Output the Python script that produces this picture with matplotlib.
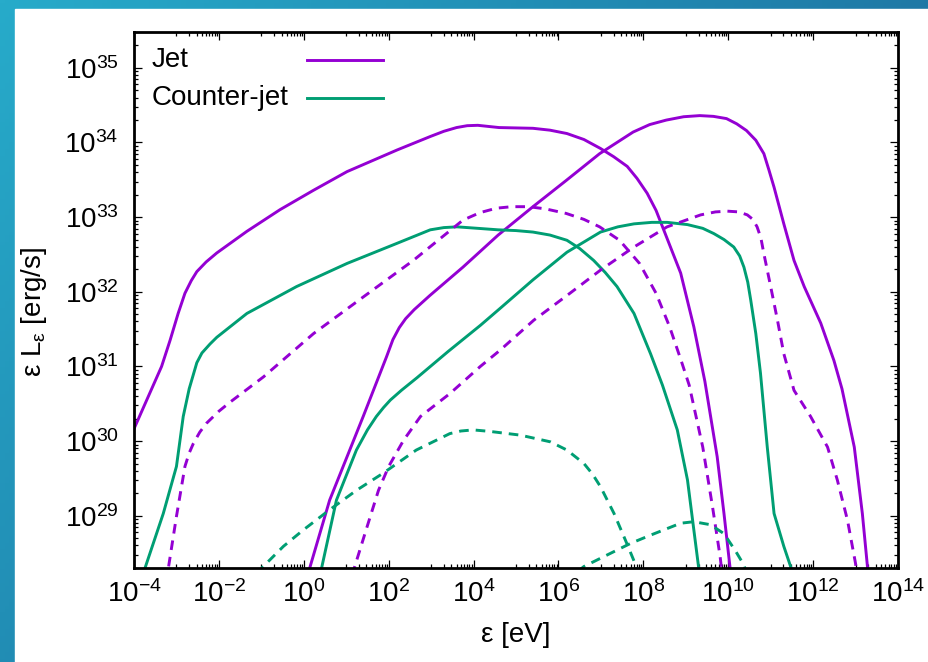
import numpy as np
import matplotlib
matplotlib.use('Agg')
import matplotlib.pyplot as plt
from matplotlib.patches import Rectangle
from matplotlib.ticker import FixedLocator, FuncFormatter, LogLocator, NullFormatter

plt.rcParams['font.family'] = ['Liberation Sans', 'DejaVu Sans']
plt.rcParams['mathtext.fontset'] = 'custom'
plt.rcParams['mathtext.rm'] = 'Liberation Sans'

# spectra, stored as log10(E/eV), log10(eL / erg/s)
# jet, solid: synchrotron and IC components
jet_syn_logE = [-4.05, -3.70, -3.35, -3.15, -2.96, -2.80, -2.65, -2.52, -2.30, -2.05, -1.34, -0.56,
                0.23, 1.02, 2.20, 2.98, 3.30, 3.60, 3.85, 4.10, 4.35, 4.60, 5.00, 5.40, 5.80, 6.20,
                6.60, 6.99, 7.30, 7.62, 7.85, 8.09, 8.30, 8.48, 8.88, 9.19, 9.45, 9.74, 9.90,
                10.04, 10.08]
jet_syn_logL = [30.10, 30.55, 31.00, 31.35, 31.71, 31.98, 32.15, 32.27, 32.40, 32.52, 32.81, 33.10,
                33.36, 33.61, 33.90, 34.08, 34.15, 34.20, 34.225, 34.23, 34.215, 34.20, 34.195, 34.19,
                34.165, 34.12, 34.04, 33.92, 33.81, 33.68, 33.52, 33.32, 33.09, 32.83, 32.25, 31.53,
                30.80, 29.79, 29.03, 28.32, 28.10]
jet_ic_logE = [0.10, 0.14, 0.61, 1.40, 1.95, 2.10, 2.25, 2.40, 2.60, 2.97, 3.75, 4.58, 5.40, 6.18,
               6.97, 7.76, 8.15, 8.54, 8.95, 9.33, 9.65, 9.96, 10.20, 10.43, 10.65, 10.84, 10.96,
               11.08, 11.31, 11.55, 11.79, 12.18, 12.49, 12.68, 12.97, 13.16, 13.28, 13.31]
jet_ic_logL = [28.10, 28.30, 29.21, 30.33, 31.13, 31.36, 31.52, 31.64, 31.76, 31.95, 32.33, 32.76,
               33.14, 33.49, 33.85, 34.14, 34.24, 34.30, 34.345, 34.36, 34.35, 34.32, 34.25, 34.16,
               34.03, 33.85, 33.63, 33.40, 32.91, 32.42, 32.07, 31.58, 31.08, 30.70, 29.92, 29.03,
               28.32, 28.10]

# jet, dashed
jetd_syn_logE = [-3.22, -3.19, -3.00, -2.80, -2.70, -2.60, -2.45, -2.29, -2.00, -1.74, -0.95, -0.32,
                 0.23, 1.40, 2.58, 3.75, 4.15, 4.54, 4.90, 5.30, 5.70, 6.18, 6.60, 6.97, 7.44, 7.91,
                 8.30, 8.62, 8.89, 9.08, 9.40, 9.63, 9.81, 9.86]
jetd_syn_logL = [28.10, 28.30, 28.99, 29.66, 29.84, 29.97, 30.12, 30.24, 30.40, 30.52, 30.86, 31.17,
                 31.44, 31.93, 32.42, 32.96, 33.06, 33.12, 33.14, 33.14, 33.11, 33.05, 32.97, 32.87,
                 32.69, 32.38, 31.98, 31.53, 31.08, 30.75, 29.92, 29.12, 28.45, 28.20]
jetd_ic_logE = [1.15, 1.19, 1.49, 1.76, 2.00, 2.35, 2.75, 3.45, 4.16, 4.63, 5.42, 6.20, 6.99, 7.78,
                8.56, 9.35, 9.70, 9.98, 10.25, 10.45, 10.58, 10.68, 10.77, 10.84, 11.00, 11.16,
                11.31, 11.55, 11.94, 12.34, 12.57, 12.81, 13.00, 13.03]
jetd_ic_logL = [28.20, 28.30, 28.85, 29.34, 29.66, 30.01, 30.33, 30.64, 31.00, 31.22, 31.62, 31.95,
                32.29, 32.60, 32.87, 33.03, 33.07, 33.08, 33.07, 33.03, 32.97, 32.87, 32.72, 32.51,
                32.07, 31.62, 31.17, 30.68, 30.33, 29.92, 29.48, 28.94, 28.36, 28.20]

# counter-jet, solid
cj_syn_logE = [-3.78, -3.74, -3.31, -3.00, -2.84, -2.70, -2.52, -2.40, -2.21, -2.05, -1.34, -0.17,
               1.02, 2.20, 2.98, 3.30, 3.61, 4.10, 4.58, 5.00, 5.40, 5.80, 6.20, 6.50, 6.83, 7.10,
               7.38, 7.78, 8.17, 8.45, 8.80, 9.04, 9.19, 9.30, 9.33]
cj_syn_logL = [28.20, 28.30, 29.03, 29.66, 30.33, 30.70, 31.05, 31.18, 31.30, 31.39, 31.71, 32.07,
               32.38, 32.65, 32.83, 32.86, 32.87, 32.85, 32.83, 32.82, 32.80, 32.76, 32.69, 32.58,
               32.42, 32.26, 32.07, 31.71, 31.17, 30.75, 30.15, 29.48, 28.81, 28.32, 28.20]
cj_ic_logE = [0.38, 0.42, 0.77, 1.24, 1.50, 1.71, 1.88, 2.04, 2.30, 2.67, 3.40, 4.16, 4.63, 5.40,
              6.20, 6.99, 7.40, 7.78, 8.20, 8.56, 9.04, 9.40, 9.66, 9.90, 10.13, 10.27, 10.37,
              10.46, 10.53, 10.65, 10.76, 10.92, 11.08, 11.31, 11.47, 11.52]
cj_ic_logL = [28.20, 28.30, 29.21, 29.88, 30.15, 30.33, 30.45, 30.55, 30.68, 30.85, 31.20, 31.55,
              31.78, 32.16, 32.53, 32.80, 32.87, 32.91, 32.93, 32.93, 32.90, 32.85, 32.78, 32.70,
              32.60, 32.48, 32.33, 32.13, 31.89, 31.44, 30.91, 29.92, 29.03, 28.59, 28.32, 28.20]

# counter-jet, dashed
cjd_syn_logE = [-1.02, -0.99, -0.48, -0.01, 0.61, 1.24, 1.87, 2.65, 3.44, 3.70, 3.99, 4.38, 5.10,
                5.81, 6.20, 6.60, 6.80, 6.99, 7.31, 7.58, 7.82, 7.86]
cjd_syn_logL = [28.20, 28.30, 28.59, 28.81, 29.08, 29.34, 29.57, 29.88, 30.10, 30.135, 30.15, 30.13,
                30.08, 29.99, 29.88, 29.70, 29.56, 29.39, 29.03, 28.67, 28.34, 28.20]
cjd_ic_logE = [6.45, 6.60, 6.99, 7.70, 8.17, 8.88, 9.19, 9.58, 9.90, 10.17, 10.37, 10.42]
cjd_ic_logL = [28.25, 28.32, 28.43, 28.63, 28.74, 28.90, 28.92, 28.88, 28.76, 28.53, 28.34, 28.25]

labels = ['Jet', 'Counter-jet']
purple = '#9400d3'
green = '#009e73'

fig = plt.figure(figsize=(9.29, 6.62), dpi=100)

# slide background
bg = fig.add_axes([0, 0, 1, 1], zorder=-1)
gx, gy = np.meshgrid(np.linspace(0, 1, 200), np.linspace(0, 1, 200))
t = np.clip(0.75 * gx + 0.45 * (1 - gy), 0, 1)
c0 = np.array([0x27, 0xab, 0xca]) / 255.
c1 = np.array([0x1b, 0x68, 0x9a]) / 255.
grad = c0[None, None, :] * (1 - t[..., None]) + c1[None, None, :] * t[..., None]
bg.imshow(grad, extent=[0, 1, 0, 1], aspect='auto', origin='lower')
bg.add_patch(Rectangle((15 / 929, 0), 1, 1 - 9 / 662, color='white'))
bg.set_xlim(0, 1)
bg.set_ylim(0, 1)
bg.axis('off')

W, H = 929, 662
ax = fig.add_axes([134 / W, 1 - 568 / H, (898 - 134) / W, (568 - 32) / H])

dash = (3.3, 2.4)
lw = 2.1
style = dict(lw=lw, solid_joinstyle='round', dash_joinstyle='round')
for e, l in [(jet_syn_logE, jet_syn_logL), (jet_ic_logE, jet_ic_logL)]:
    ax.plot(np.power(10.0, e), np.power(10.0, l), color=purple, **style)
for e, l in [(cj_syn_logE, cj_syn_logL), (cj_ic_logE, cj_ic_logL)]:
    ax.plot(np.power(10.0, e), np.power(10.0, l), color=green, **style)
for e, l in [(jetd_syn_logE, jetd_syn_logL), (jetd_ic_logE, jetd_ic_logL)]:
    ax.plot(np.power(10.0, e), np.power(10.0, l), color=purple, dashes=dash, **style)
for e, l in [(cjd_syn_logE, cjd_syn_logL), (cjd_ic_logE, cjd_ic_logL)]:
    ax.plot(np.power(10.0, e), np.power(10.0, l), color=green, dashes=dash, **style)

ax.set_xscale('log')
ax.set_yscale('log')
ax.set_xlim(1e-4, 1e14)
ax.set_ylim(10 ** 28.30, 10 ** 35.48)

fmt = FuncFormatter(lambda v, p: r'$\mathregular{10^{%d}}$' % int(round(np.log10(v))))
ax.xaxis.set_major_locator(FixedLocator([10.0 ** k for k in range(-4, 15, 2)]))
ax.xaxis.set_minor_locator(FixedLocator([m * 10.0 ** k for k in range(-3, 14, 2) for m in range(1, 10)]))
ax.xaxis.set_major_formatter(fmt)
ax.xaxis.set_minor_formatter(NullFormatter())
ax.yaxis.set_major_locator(FixedLocator([10.0 ** k for k in range(29, 36)]))
ax.yaxis.set_minor_locator(LogLocator(base=10, subs=np.arange(2, 10), numticks=20))
ax.yaxis.set_major_formatter(fmt)
ax.yaxis.set_minor_formatter(NullFormatter())

ax.tick_params(which='both', direction='in', top=True, right=True, width=0.9)
ax.tick_params(which='major', length=6, labelsize=20)
ax.tick_params(which='minor', length=3)
ax.tick_params(axis='x', which='major', pad=9)
ax.tick_params(axis='y', which='major', pad=11)
for s in ax.spines.values():
    s.set_linewidth(2.0)

# key
ax.text(0.0236, 0.948, labels[0], transform=ax.transAxes, fontsize=20, va='center', ha='left')
ax.text(0.0236, 0.877, labels[1], transform=ax.transAxes, fontsize=20, va='center', ha='left')
ax.plot([0.2264, 0.3259], [0.948, 0.948], transform=ax.transAxes, color=purple, lw=lw)
ax.plot([0.2264, 0.3259], [0.877, 0.877], transform=ax.transAxes, color=green, lw=lw)

fig.text(516 / W, 1 - 635 / H, 'ε [eV]', fontsize=20, ha='center', va='center')
fig.text(34 / W, 1 - 312 / H, r'ε L$_{\mathregular{ε}}$ [erg/s]', fontsize=20, ha='center', va='center',
         rotation=90)

fig.savefig('out.png', dpi=100)
